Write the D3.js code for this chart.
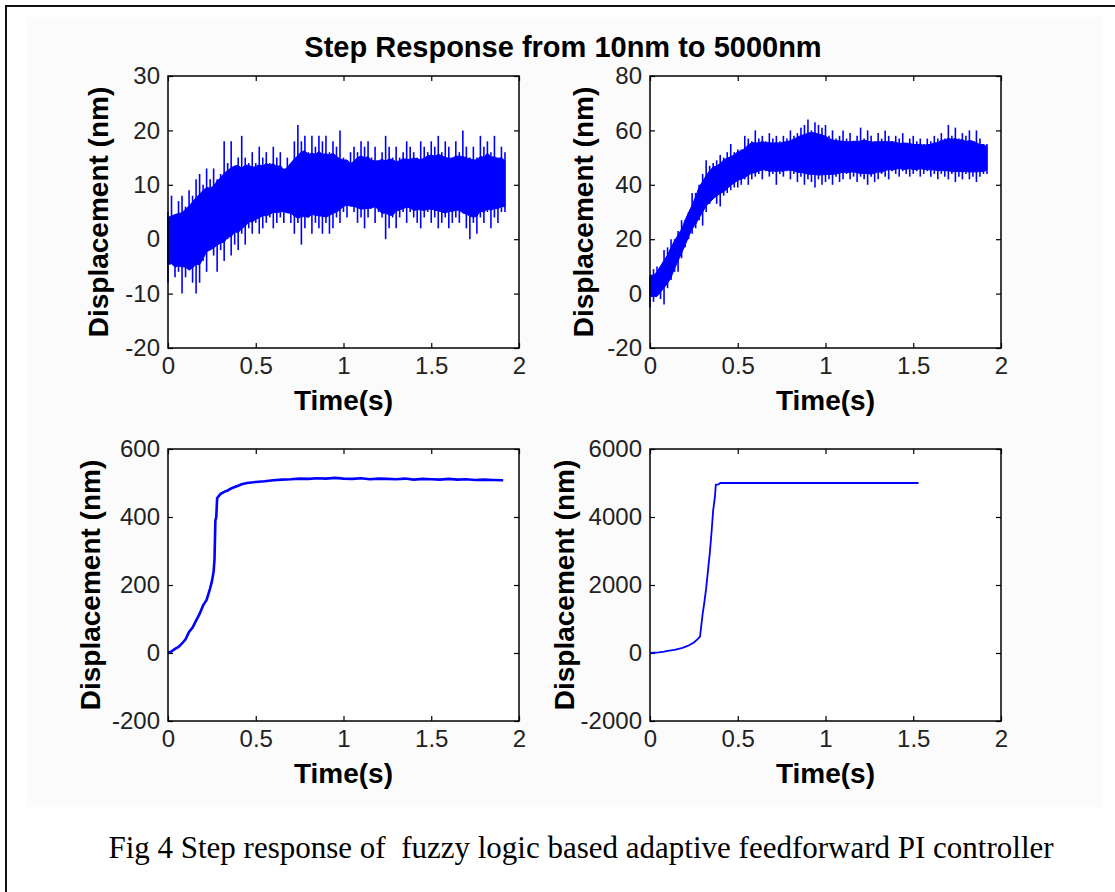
<!DOCTYPE html>
<html>
<head>
<meta charset="utf-8">
<script src="https://cdn.jsdelivr.net/npm/d3@7"></script>
<style>
  body { margin: 0; background: #fff; }
  svg { display: block; }
  .tick text { font-family: "Liberation Sans", Arial, sans-serif; font-size: 24px; fill: #222; }
  .tick line { stroke: #000; stroke-width: 1.2; }
  .lbl { font-family: "Liberation Sans", Arial, sans-serif; font-weight: bold; font-size: 28px; fill: #000; }
</style>
</head>
<body>
<svg id="chart" width="1115" height="892"></svg>
<script>
// ---- data ----
const timeTicks = [0, 0.5, 1, 1.5, 2];

// sample times for the noisy runs, every 0.02 s from 0 to 1.92
const noisyTimes = d3.range(0, 97).map((i) => +(i * 0.02).toFixed(2));

// 10 nm step: upper / lower edge of the noise band (nm)
const step10Upper = [5, 8, 4, 7, 8, 6, 9, 8, 11, 12, 10, 13, 11, 13, 11, 12, 18, 14, 18, 13,
  15, 19, 15, 14, 16, 14, 17, 15, 16, 14, 17, 15, 16, 13, 15, 12, 18, 21, 18, 19,
  16, 19, 17, 19, 18, 19, 16, 18, 17, 20, 15, 13, 16, 17, 16, 18, 17, 18, 15, 17,
  14, 16, 19, 17, 15, 17, 15, 16, 18, 17, 16, 15, 18, 17, 16, 18, 17, 19, 16, 18,
  17, 15, 18, 16, 20, 17, 15, 17, 15, 19, 17, 18, 16, 19, 15, 17, 16];
const step10Lower = [-8, -4, -7, -6, -10, -7, -5, -8, -10, -8, -4, -6, -2, -3, -6, -2, -4, 0, -3, -1,
  -2, 1, -1, 2, 1, 3, 1, 2, 3, 4, 2, 3, 4, 3, 5, 3, 1, 3, -1, 2,
  4, 1, 3, 2, 1, 3, 1, 2, 4, 3, 5, 4, 6, 5, 3, 4, 2, 4, 6, 3,
  5, 4, 0, 2, 4, 2, 4, 5, 3, 5, 4, 3, 2, 4, 5, 3, 4, 2, 3, 4,
  2, 3, 4, 3, 5, 2, 0, 3, 1, 4, 3, 5, 2, 4, 3, 5, 5];

// 50 nm step
const step50Upper = [6, 9, 10, 8, 16, 17, 20, 20, 23, 27, 27, 30, 37, 37, 40, 44, 49, 47, 48, 49,
  51, 50, 52, 55, 52, 53, 53, 58, 57, 56, 60, 57, 58, 56, 59, 57, 58, 56, 58, 57,
  60, 58, 59, 61, 62, 64, 60, 63, 62, 61, 62, 58, 60, 57, 58, 60, 57, 59, 56, 58,
  61, 57, 60, 58, 56, 59, 57, 60, 58, 56, 58, 57, 59, 55, 57, 58, 56, 57, 55, 57,
  56, 58, 57, 59, 57, 62, 58, 61, 57, 59, 58, 60, 56, 60, 57, 55, 55];
const step50Lower = [-5, -3, 0, -2, -4, 2, 5, 8, 8, 13, 17, 20, 22, 24, 27, 25, 30, 33, 35, 33,
  32, 36, 37, 38, 39, 39, 40, 42, 40, 42, 43, 44, 42, 45, 43, 44, 40, 44, 43, 45,
  42, 44, 41, 43, 40, 42, 41, 39, 42, 40, 41, 42, 40, 43, 41, 42, 44, 42, 43, 41,
  43, 42, 40, 43, 41, 42, 44, 43, 42, 45, 44, 43, 45, 44, 43, 44, 45, 43, 44, 45,
  43, 44, 42, 44, 43, 42, 44, 41, 43, 42, 44, 42, 43, 41, 43, 44, 44];

// 500 nm step
const step500Times = [0, 0.02, 0.04, 0.06, 0.08, 0.10, 0.12, 0.14, 0.16, 0.18, 0.20, 0.22, 0.24, 0.25,
  0.26, 0.265, 0.27, 0.275, 0.28, 0.29, 0.30, 0.32, 0.34, 0.36, 0.38, 0.40, 0.42, 0.45, 0.50,
  0.55, 0.60, 0.65, 0.70, 0.75, 0.80, 0.85, 0.90, 0.95, 1.00, 1.05, 1.10, 1.15, 1.20, 1.25,
  1.30, 1.35, 1.40, 1.45, 1.50, 1.55, 1.60, 1.65, 1.70, 1.75, 1.80, 1.85, 1.91];
const step500Values = [0, 5, 12, 18, 28, 40, 62, 75, 95, 115, 140, 156, 190, 210,
  240, 275, 390, 400, 455, 462, 468, 474, 478, 484, 488, 492, 496, 500, 503,
  505, 508, 510, 511, 513, 512, 514, 513, 515, 513, 512, 514, 511, 513, 512,
  511, 513, 510, 512, 511, 510, 512, 510, 511, 509, 510, 509, 508];

// 5000 nm step
const step5000Times = [0, 0.05, 0.08, 0.10, 0.14, 0.18, 0.20, 0.22, 0.25, 0.27, 0.285, 0.29, 0.30,
  0.31, 0.32, 0.33, 0.34, 0.35, 0.36, 0.37, 0.375, 0.39, 0.40, 0.42, 1.53];
const step5000Values = [0, 20, 40, 60, 90, 140, 180, 220, 310, 400, 480, 700, 1150,
  1500, 1900, 2400, 2900, 3500, 4200, 4600, 4950, 4960, 5000, 5000, 5000];

const yTicks10 = [-20, -10, 0, 10, 20, 30];
const yTicks50 = [-20, 0, 20, 40, 60, 80];
const yTicks500 = [-200, 0, 200, 400, 600];
const yTicks5000 = [-2000, 0, 2000, 4000, 6000];

const titleText = 'Step Response from 10nm to 5000nm';
const captionText = 'Fig 4 Step response of\u00a0 fuzzy logic based adaptive feedforward PI controller';

// ---- layout ----
const svg = d3.select('#chart');
const blue = '#0000ff';
const plain = (d) => String(d); // keep the ascii hyphen like MATLAB

// outer frame and figure background
svg.append('rect').attr('x', 6).attr('y', 6).attr('width', 1200).attr('height', 1000)
  .attr('fill', '#fff').attr('stroke', '#111').attr('stroke-width', 2);
svg.append('rect').attr('x', 27).attr('y', 17).attr('width', 1076).attr('height', 790)
  .attr('fill', '#fbfbfb');

svg.append('text').attr('class', 'lbl')
  .attr('x', 563).attr('y', 57).attr('text-anchor', 'middle')
  .style('font-size', '29px')
  .text(titleText);

svg.append('text')
  .attr('x', 581).attr('y', 858).attr('text-anchor', 'middle')
  .style('font-family', '"Liberation Serif", "Times New Roman", serif')
  .style('font-size', '31px')
  .text(captionText);

function makePanel(left, top, yDomain, yTicks, labelOffset) {
  const w = 351, h = 272;
  const x = d3.scaleLinear().domain([0, 2]).range([left, left + w]);
  const y = d3.scaleLinear().domain(yDomain).range([top + h, top]);
  const g = svg.append('g');

  g.append('rect').attr('x', left).attr('y', top).attr('width', w).attr('height', h)
    .attr('fill', '#fff');

  g.append('g').attr('transform', `translate(0,${top + h})`)
    .call(d3.axisBottom(x).tickValues(timeTicks).tickFormat(plain).tickSize(-5).tickPadding(9));
  g.append('g').attr('transform', `translate(0,${top})`)
    .call(d3.axisTop(x).tickValues(timeTicks).tickFormat('').tickSize(-5));
  g.append('g').attr('transform', `translate(${left},0)`)
    .call(d3.axisLeft(y).tickValues(yTicks).tickFormat(plain).tickSize(-5).tickPadding(8));
  g.append('g').attr('transform', `translate(${left + w},0)`)
    .call(d3.axisRight(y).tickValues(yTicks).tickFormat('').tickSize(-5));
  g.selectAll('.domain').remove();

  g.append('text').attr('class', 'lbl')
    .attr('x', left + w / 2).attr('y', top + h + 62).attr('text-anchor', 'middle')
    .text('Time(s)');
  g.append('text').attr('class', 'lbl')
    .attr('transform', `translate(${left - labelOffset},${top + h / 2}) rotate(-90)`)
    .attr('text-anchor', 'middle')
    .text('Displacement (nm)');

  return { g, x, y, left, top, w, h };
}

// noisy record: a dense core (running mean of the read edges, pulled in a bit)
// plus thin spikes out to each read edge
function drawBand(p, times, upper, lower) {
  const rows = times.map((t, i) => {
    const a = Math.max(0, i - 2), b = Math.min(times.length, i + 3);
    const hiMean = d3.mean(upper.slice(a, b));
    const loMean = d3.mean(lower.slice(a, b));
    const mid = (hiMean + loMean) / 2;
    return {
      t,
      hi: upper[i],
      lo: lower[i],
      coreHi: mid + 0.72 * (hiMean - mid),
      coreLo: mid + 0.72 * (loMean - mid),
    };
  });
  const area = d3.area()
    .x((d) => p.x(d.t))
    .y0((d) => p.y(d.coreLo))
    .y1((d) => p.y(d.coreHi));
  p.g.append('path').datum(rows)
    .attr('d', area)
    .attr('fill', blue)
    .attr('stroke', blue)
    .attr('stroke-width', 1);
  p.g.append('g').selectAll('line')
    .data(rows)
    .join('line')
    .attr('x1', (d) => p.x(d.t))
    .attr('x2', (d) => p.x(d.t))
    .attr('y1', (d) => p.y(d.lo))
    .attr('y2', (d) => p.y(d.hi))
    .attr('stroke', blue)
    .attr('stroke-width', 1.6);
}

function drawLine(p, times, values, width) {
  const rows = times.map((t, i) => ({ t, v: values[i] }));
  const line = d3.line().x((d) => p.x(d.t)).y((d) => p.y(d.v));
  p.g.append('path').datum(rows)
    .attr('d', line)
    .attr('fill', 'none')
    .attr('stroke', blue)
    .attr('stroke-width', width);
}

function frame(p) {
  p.g.append('rect').attr('x', p.left).attr('y', p.top).attr('width', p.w).attr('height', p.h)
    .attr('fill', 'none').attr('stroke', '#000').attr('stroke-width', 1.5);
}

const p1 = makePanel(168, 76, [-20, 30], yTicks10, 60);
drawBand(p1, noisyTimes, step10Upper, step10Lower);
frame(p1);

const p2 = makePanel(650, 76, [-20, 80], yTicks50, 57);
drawBand(p2, noisyTimes, step50Upper, step50Lower);
frame(p2);

const p3 = makePanel(168, 449, [-200, 600], yTicks500, 68);
drawLine(p3, step500Times, step500Values, 2.6);
frame(p3);

const p4 = makePanel(650, 449, [-2000, 6000], yTicks5000, 76);
drawLine(p4, step5000Times, step5000Values, 1.8);
frame(p4);
</script>
</body>
</html>
